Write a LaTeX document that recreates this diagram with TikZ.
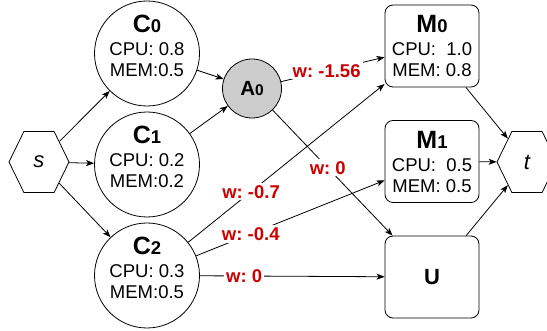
\documentclass[tikz,border=0pt]{standalone}
\usepackage{fontspec}
\setmainfont{Liberation Sans}
\usetikzlibrary{shapes.symbols,arrows.meta}
\definecolor{wred}{HTML}{CC0000}
\definecolor{agrey}{HTML}{CCCCCC}

% big bold letter followed by a smaller bold index
\newcommand\nodetitle[2]{{\fontsize{25}{25}\selectfont\bfseries #1\fontsize{18.5}{18.5}\selectfont #2}}

\tikzset{
  every node/.style={inner sep=0pt},
  bodyfont/.style={font=\fontsize{18.5}{21}\selectfont\frenchspacing},
  cnode/.style={draw, circle, minimum size=105pt, line width=0.8pt},
  ctext/.style={bodyfont, align=center},
  anode/.style={draw, circle, fill=agrey, minimum size=59pt, line width=0.8pt},
  mnode/.style={draw, rounded corners=8pt, minimum width=94pt, minimum height=82pt,
                line width=0.8pt, align=center, bodyfont},
  hexnode/.style={draw, signal, signal to=east and west, signal pointer angle=128,
                  minimum width=60pt, minimum height=61pt, line width=0.8pt,
                  font=\fontsize{22}{22}\selectfont\itshape},
  arr/.style={-{Stealth[length=8pt,width=6pt,inset=2pt]}, line width=0.8pt},
  wlbl/.style={fill=white, text=wred, inner sep=2pt,
               font=\fontsize{18.5}{18.5}\selectfont\bfseries\frenchspacing},
}

\begin{document}
\begin{tikzpicture}[x=1pt,y=-1pt]
\useasboundingbox (0,0) rectangle (547,331);
\clip (0,0) rectangle (547,331);

% source and sink
\node[hexnode] (s) at (39,162) {s};
\node[hexnode] (t) at (527,162) {t};

% container nodes
\node[cnode] (C0) at (147,53.5) {};
\node[cnode] (C1) at (147,164.5) {};
\node[cnode] (C2) at (147,275.5) {};
\node[ctext] (C0t) at ([yshift=8pt]C0.center) {\nodetitle{C}{0}\\[2pt]CPU: 0.8\\MEM:0.5};
\node[ctext] (C1t) at ([yshift=8pt]C1.center) {\nodetitle{C}{1}\\[2pt]CPU: 0.2\\MEM:0.2};
\node[ctext] (C2t) at ([yshift=8pt]C2.center) {\nodetitle{C}{2}\\[2pt]CPU: 0.3\\MEM:0.5};

% aggregation node
\node[anode] (A0) at (252,88.5)
  {{\fontsize{20.5}{20.5}\selectfont\bfseries A\fontsize{15.5}{15.5}\selectfont 0}};

% machines
\node[mnode] (M0) at (432,46) {\nodetitle{M}{0}\\[2pt]CPU:\ \ 1.0\\MEM: 0.8};
\node[mnode] (M1) at (432,161.5) {\nodetitle{M}{1}\\[2pt]CPU:\ \ 0.5\\MEM: 0.5};
\node[mnode, font=\fontsize{22}{22}\selectfont\bfseries] (U) at (432,277) {U};

% edges
\draw[arr] (s) -- (C0);
\draw[arr] (s) -- (C1);
\draw[arr] (s) -- (C2);
\draw[arr] (C0) -- (A0);
\draw[arr] (C1) -- (A0);
\draw[arr] (A0) -- node[wlbl, pos=0.44] (l1) {w: -1.56} (M0);
\draw[arr] (A0) -- node[wlbl, pos=0.46] (l2) {w: 0} (U);
\draw[arr] (C2) -- node[wlbl, pos=0.32] (l3) {w: -0.7} (M0);
\draw[arr] (C2) -- node[wlbl, pos=0.29] (l4) {w: -0.4} (M1);
\draw[arr] (C2) -- node[wlbl, pos=0.24] (l5) {w: 0} (U);
\draw[arr] (M0) -- (t);
\draw[arr] (M1) -- (t);
\draw[arr] (U) -- (t);
\end{tikzpicture}
\end{document}
